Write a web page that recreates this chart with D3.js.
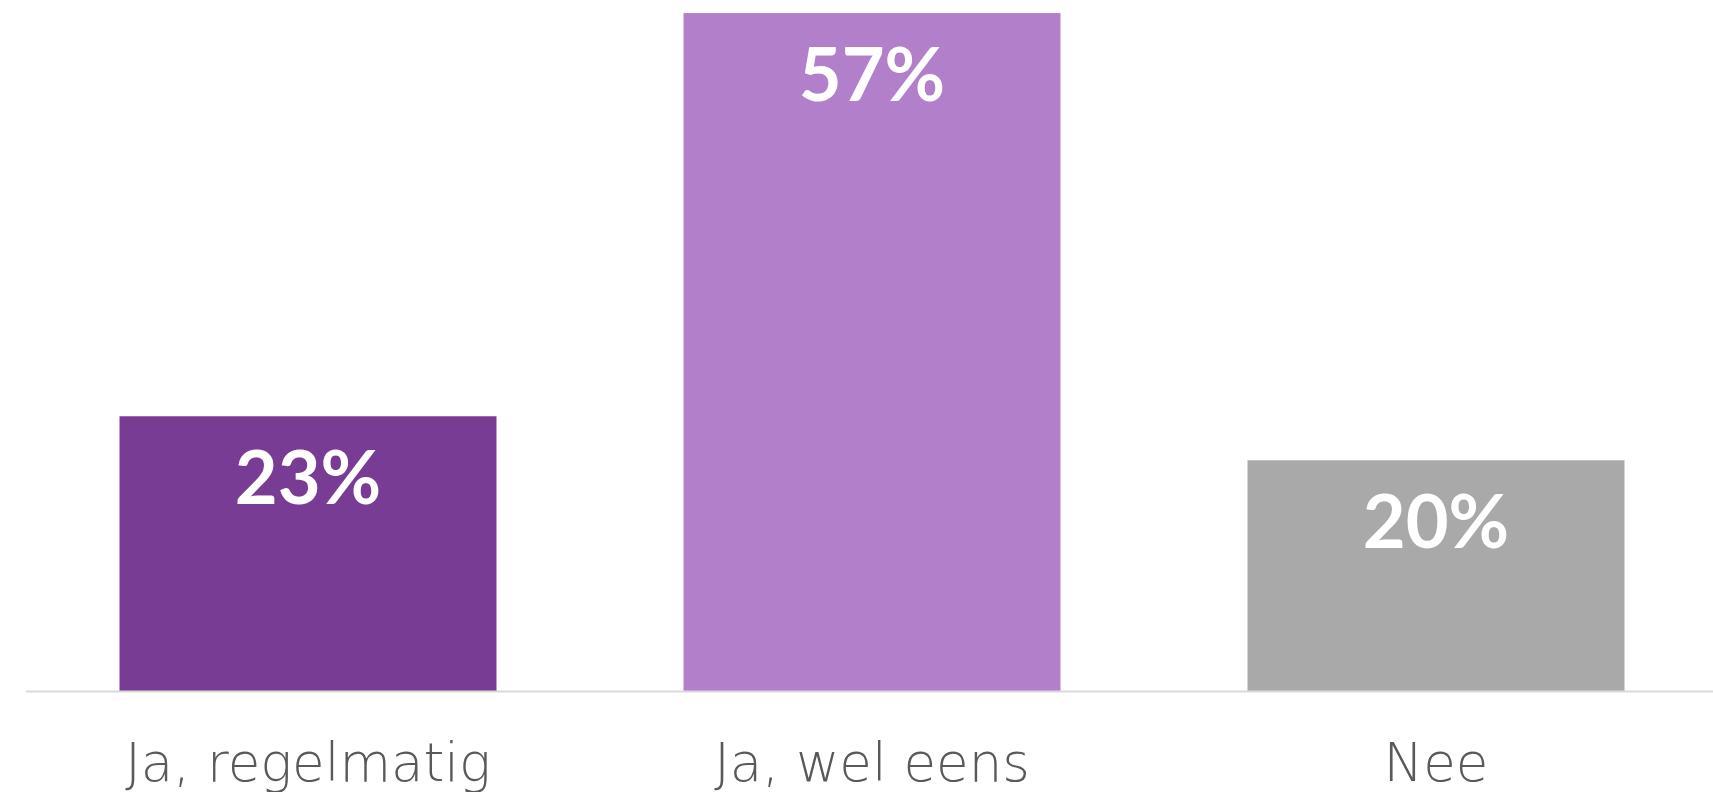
<!DOCTYPE html>
<html>
<head>
<meta charset="utf-8">
<script src="https://cdn.jsdelivr.net/npm/d3@7"></script>
<style>
  html, body { margin: 0; padding: 0; background: #ffffff; }
  svg { display: block; }
</style>
</head>
<body>
<svg id="chart" width="1713" height="792"></svg>
<script>
// ---- data ----
const categories = ["Ja, regelmatig", "Ja, wel eens", "Nee"];
const values = [23.1, 57.0, 19.4];
const valueLabels = ["23%", "57%", "20%"];
const barColors = ["#783c94", "#b27fca", "#a9a9a9"];

// ---- layout ----
const W = 1713, H = 792;
const baseline = 691;
const svg = d3.select("#chart");

const x = d3.scaleBand()
  .domain(categories)
  .range([26, 1718])
  .paddingInner(0.3316)
  .paddingOuter(0.1658);

const y = d3.scaleLinear()
  .domain([0, 58.1])
  .range([baseline, 0]);

// bars
svg.append("g").selectAll("rect")
  .data(categories)
  .join("rect")
  .attr("x", d => x(d))
  .attr("width", x.bandwidth())
  .attr("y", (d, i) => y(values[i]))
  .attr("height", (d, i) => baseline - y(values[i]))
  .attr("fill", (d, i) => barColors[i]);

// axis line + category labels
const xAxis = d3.axisBottom(x).tickSize(0).tickPadding(0);
const gx = svg.append("g")
  .attr("transform", `translate(0,${baseline})`)
  .call(xAxis);
gx.select(".domain").attr("stroke", "#d9d9d9").attr("stroke-width", 2)
  .attr("d", `M26,0.5H${W}`);
gx.selectAll(".tick text")
  .attr("y", 90)
  .attr("dy", 0)
  .attr("fill", "#595959")
  .style("font-family", "'DejaVu Sans', sans-serif")
  .style("font-size", "53px")
  .style("font-weight", "200");

// value labels
svg.append("g").selectAll("text")
  .data(categories)
  .join("text")
  .attr("x", d => x(d) + x.bandwidth() / 2)
  .attr("y", (d, i) => y(values[i]) + 88)
  .attr("text-anchor", "middle")
  .attr("fill", "#ffffff")
  .style("font-family", "Lato, sans-serif")
  .style("font-weight", "bold")
  .style("font-size", "74px")
  .text((d, i) => valueLabels[i]);
</script>
</body>
</html>
